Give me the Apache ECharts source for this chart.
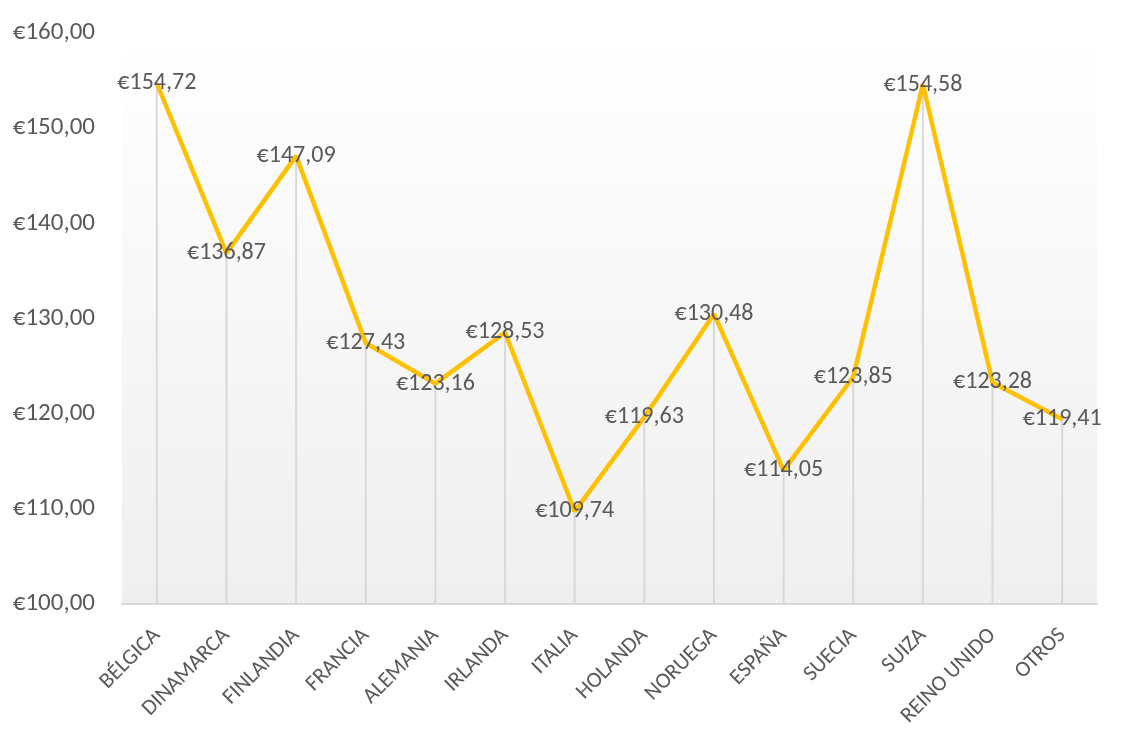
<!DOCTYPE html>
<html>
<head>
<meta charset="utf-8">
<script src="https://cdn.jsdelivr.net/npm/echarts@6/dist/echarts.min.js"></script>
<style>
  html, body { margin: 0; padding: 0; background: #fff; }
  #chart { width: 1121px; height: 731px; }
</style>
</head>
<body>
<div id="chart"></div>
<script>
// 数据
const paises = ['BÉLGICA', 'DINAMARCA', 'FINLANDIA', 'FRANCIA', 'ALEMANIA', 'IRLANDA', 'ITALIA',
  'HOLANDA', 'NORUEGA', 'ESPAÑA', 'SUECIA', 'SUIZA', 'REINO UNIDO', 'OTROS'];
const precios = [154.72, 136.87, 147.09, 127.43, 123.16, 128.53, 109.74,
  119.63, 130.48, 114.05, 123.85, 154.58, 123.28, 119.41];

const fuente = 'Carlito, "Open Sans", "Noto Sans", sans-serif';
const gris = '#595959';
const euro = v => '€' + Number(v).toFixed(2).replace('.', ',');

const chart = echarts.init(document.getElementById('chart'));

chart.setOption({
  animation: false,
  grid: {
    left: 122, right: 24, top: 33, bottom: 127,
    show: true,
    borderWidth: 0,
    backgroundColor: new echarts.graphic.LinearGradient(0, 0, 0, 1, [
      { offset: 0, color: '#ffffff' },
      { offset: 1, color: '#efefef' }
    ])
  },
  xAxis: {
    type: 'category',
    data: paises,
    axisLine: { lineStyle: { color: '#d9d9d9', width: 2 } },
    axisTick: { show: false },
    axisLabel: { rotate: 45, margin: 28, color: gris, fontSize: 22, fontFamily: fuente, interval: 0 }
  },
  yAxis: {
    type: 'value',
    min: 100, max: 160, interval: 10,
    axisLine: { show: false },
    axisTick: { show: false },
    splitLine: { show: false },
    axisLabel: { color: gris, fontSize: 25, fontFamily: fuente, margin: 27, formatter: euro }
  },
  series: [
    {
      // líneas verticales
      type: 'bar',
      data: precios,
      barWidth: 2,
      silent: true,
      itemStyle: { color: '#d9d9d9' }
    },
    {
      type: 'line',
      data: precios,
      symbol: 'circle',
      symbolSize: 2,
      showSymbol: true,
      itemStyle: { color: '#ffc000' },
      lineStyle: { color: '#ffc000', width: 4.5 },
      label: {
        show: true,
        position: ['50%', '50%'],
        align: 'center',
        verticalAlign: 'middle',
        padding: [6, 0, 0, 0],
        color: gris,
        fontSize: 24,
        fontFamily: fuente,
        formatter: p => euro(p.value)
      },
      labelLayout: { hideOverlap: false },
      z: 3
    }
  ]
});
</script>
</body>
</html>
